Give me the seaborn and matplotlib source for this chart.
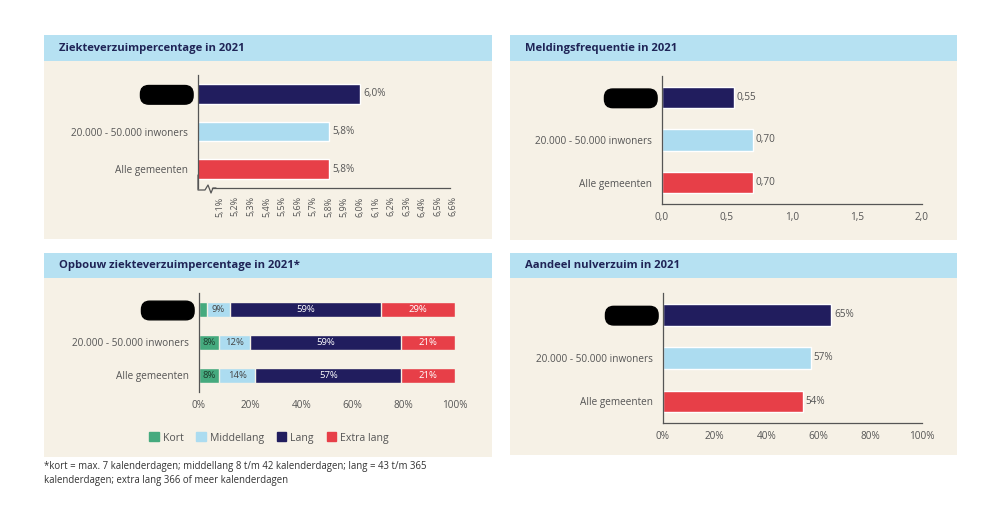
import numpy as np
import pandas as pd
import seaborn as sns
import matplotlib.pyplot as plt
from matplotlib.patches import Rectangle, Patch

# figure size in pixels
W, H = 1000, 514

categories = ["Gemeente", "20.000 - 50.000 inwoners", "Alle gemeenten"]

# Ziekteverzuimpercentage in 2021
verzuim_pct = [6.0, 5.8, 5.8]
verzuim_ticks = [5.1, 5.2, 5.3, 5.4, 5.5, 5.6, 5.7, 5.8, 5.9, 6.0, 6.1, 6.2, 6.3, 6.4, 6.5, 6.6]
verzuim_ticklabels = ["5,1%", "5,2%", "5,3%", "5,4%", "5,5%", "5,6%", "5,7%", "5,8%",
                      "5,9%", "6,0%", "6,1%", "6,2%", "6,3%", "6,4%", "6,5%", "6,6%"]

# Meldingsfrequentie in 2021
melding_freq = [0.55, 0.70, 0.70]
melding_ticks = [0.0, 0.5, 1.0, 1.5, 2.0]
melding_ticklabels = ["0,0", "0,5", "1,0", "1,5", "2,0"]

# Aandeel nulverzuim in 2021
nulverzuim_pct = [65, 57, 54]
pct_ticks = [0, 20, 40, 60, 80, 100]
pct_ticklabels = ["0%", "20%", "40%", "60%", "80%", "100%"]

# Opbouw ziekteverzuimpercentage in 2021
duur_labels = ["Kort", "Middellang", "Lang", "Extra lang"]
kort = [3, 8, 8]
middellang = [9, 12, 14]
lang = [59, 59, 57]
extra_lang = [29, 21, 21]

footnote = ("*kort = max. 7 kalenderdagen; middellang 8 t/m 42 kalenderdagen; lang = 43 t/m 365\n"
            "kalenderdagen; extra lang 366 of meer kalenderdagen")

NAVY = "#211d5e"
LIGHT = "#acdcf0"
RED = "#e73f48"
GREEN = "#45aa7e"
HEADER = "#b6e1f2"
BODY = "#f6f1e6"
TITLE = "#1f2456"
GREY = "#555555"
bar_colors = [NAVY, LIGHT, RED]
duur_colors = [GREEN, LIGHT, NAVY, RED]
duur_text = ["#1d3b2c", "#444444", "white", "white"]

sns.set_theme(style="white")
plt.rcParams['font.family'] = ['Open Sans', 'DejaVu Sans']

fig = plt.figure(figsize=(W / 100, H / 100), dpi=100)
fig.patch.set_facecolor("white")


def panel(l, t, r, b, title, head=26):
    fig.patches.append(Rectangle((l / W, 1 - b / H), (r - l) / W, (b - t) / H,
                                 transform=fig.transFigure, fc=BODY, ec="none", zorder=-2))
    fig.patches.append(Rectangle((l / W, 1 - (t + head) / H), (r - l) / W, head / H,
                                 transform=fig.transFigure, fc=HEADER, ec="none", zorder=-1))
    fig.text((l + 15) / W, 1 - (t + head / 2) / H, title, ha="left", va="center",
             fontsize=8.1, weight="bold", color=TITLE)


def px_axes(l, t, r, b):
    ax = fig.add_axes([l / W, 1 - b / H, (r - l) / W, (b - t) / H])
    ax.set_facecolor("none")
    return ax


def style_axes(ax):
    sns.despine(ax=ax)
    for s in ["left", "bottom"]:
        ax.spines[s].set_color(GREY)
        ax.spines[s].set_linewidth(0.9)
    ax.set_xlabel("")
    ax.set_ylabel("")
    ax.tick_params(axis="y", length=0, pad=7, labelsize=7.2, labelcolor=GREY)
    ax.tick_params(axis="x", length=0, labelsize=7.2, labelcolor=GREY)
    ax.set_ylim(2.5, -0.5)
    # the municipality name is blacked out in the source
    lbl = ax.get_yticklabels()[0]
    lbl.set_color("black")
    lbl.set_fontsize(6.3)
    lbl.set_bbox(dict(boxstyle="round,pad=0.55,rounding_size=0.95", fc="black", ec="black"))


def simple_bars(ax, values, width):
    sns.barplot(x=values, y=categories, hue=categories, palette=bar_colors, legend=False,
                saturation=1, width=width, orient="h", ax=ax)
    style_axes(ax)


panel(44, 35, 492, 239, "Ziekteverzuimpercentage in 2021")
panel(510, 35, 957, 240, "Meldingsfrequentie in 2021")
panel(44, 253, 492, 457, "Opbouw ziekteverzuimpercentage in 2021*", head=25)
panel(510, 253, 957, 455, "Aandeel nulverzuim in 2021", head=25)

# --- top left
ax1 = px_axes(198, 75, 455, 188)
simple_bars(ax1, verzuim_pct, 0.52)
ax1.set_xlim(4.96, 6.61)
ax1.spines["bottom"].set_bounds(5.05, 6.575)
ax1.set_xticks(verzuim_ticks)
ax1.set_xticklabels(verzuim_ticklabels, rotation=90, fontsize=6.5)
ax1.tick_params(axis="x", pad=6)
for i, v in enumerate(verzuim_pct):
    ax1.text(v + 0.02, i, f"{v:.1f}%".replace(".", ","), va="center", ha="left",
             fontsize=7.2, color=GREY)
# axis break mark
zx = np.array([198, 198, 205, 208, 211, 213, 216])
zy = np.array([175, 190, 190, 185, 193, 188, 188])
ax1.plot((zx - 198) / 257, (188 - zy) / 113, transform=ax1.transAxes, color=GREY,
         lw=0.9, clip_on=False)

# --- top right
ax2 = px_axes(662, 76, 922, 204)
simple_bars(ax2, melding_freq, 0.5)
ax2.set_xlim(0, 2.0)
ax2.set_xticks(melding_ticks)
ax2.set_xticklabels(melding_ticklabels)
ax2.tick_params(axis="x", pad=6)
for i, v in enumerate(melding_freq):
    ax2.text(v + 0.02, i, f"{v:.2f}".replace(".", ","), va="center", ha="left",
             fontsize=7.2, color=GREY)

# --- bottom right
ax4 = px_axes(663, 293, 922, 423)
simple_bars(ax4, nulverzuim_pct, 0.5)
ax4.set_xlim(0, 100)
ax4.set_xticks(pct_ticks)
ax4.set_xticklabels(pct_ticklabels)
ax4.tick_params(axis="x", pad=6)
for i, v in enumerate(nulverzuim_pct):
    ax4.text(v + 1, i, f"{v}%", va="center", ha="left", fontsize=7.2, color=GREY)

# --- bottom left, stacked
ax3 = px_axes(199, 293, 455, 392)
stack = pd.DataFrame({"categorie": categories, "Kort": kort, "Middellang": middellang,
                      "Lang": lang, "Extra lang": extra_lang})
cum = stack[duur_labels].cumsum(axis=1)
for col, c in reversed(list(zip(duur_labels, duur_colors))):
    sns.barplot(x=cum[col], y=stack["categorie"], color=c, saturation=1, width=0.46,
                orient="h", edgecolor=BODY, linewidth=1, ax=ax3)
style_axes(ax3)
ax3.spines["bottom"].set_visible(False)
ax3.set_xlim(0, 100)
ax3.set_xticks(pct_ticks)
ax3.set_xticklabels(pct_ticklabels)
ax3.tick_params(axis="x", pad=6)
for col, tc in zip(duur_labels, duur_text):
    for i in range(len(categories)):
        v = stack[col][i]
        if v < 5:
            continue
        ax3.text(cum[col][i] - v / 2, i, f"{v}%", ha="center", va="center",
                 fontsize=6.8, color=tc)

handles = [Patch(color=c, label=l) for l, c in zip(duur_labels, duur_colors)]
fig.legend(handles=handles, loc="center", bbox_to_anchor=(0.269, 1 - 438 / H), ncol=4,
           frameon=False, fontsize=7.6, handlelength=0.9, handleheight=0.9,
           handletextpad=0.4, columnspacing=1.2, labelcolor=GREY)

fig.text(44 / W, 1 - 461 / H, footnote, ha="left", va="top", fontsize=6.9,
         color="#333333", linespacing=1.35)

fig.savefig("out.png", dpi=100, facecolor="white")
